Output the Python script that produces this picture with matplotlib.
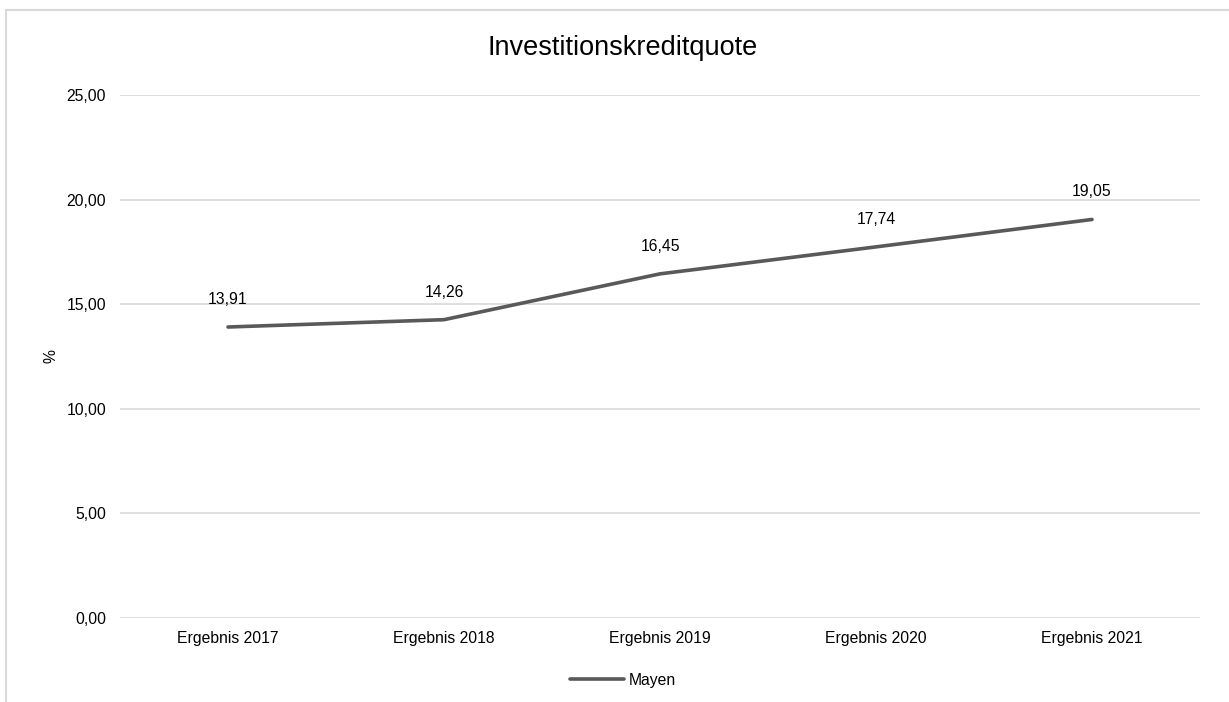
import matplotlib.pyplot as plt
from matplotlib.lines import Line2D

plt.rcParams['font.family'] = ['Liberation Sans', 'DejaVu Sans']

categories = ['Ergebnis 2017', 'Ergebnis 2018', 'Ergebnis 2019', 'Ergebnis 2020', 'Ergebnis 2021']
values = [13.91, 14.26, 16.45, 17.74, 19.05]
yticks = [0, 5, 10, 15, 20, 25]

W, H = 1229, 702
fig = plt.figure(figsize=(W / 100, H / 100), dpi=100)
ax = fig.add_axes([120 / W, 1 - 618 / H, 1080 / W, 523 / H])

x = list(range(len(categories)))
line, = ax.plot(x, values, color='#595959', linewidth=2.6, solid_capstyle='round', label='Mayen', zorder=3)
for xi, v in zip(x, values):
    ax.annotate(f'{v:.2f}'.replace('.', ','), (xi, v), xytext=(0, 20), textcoords='offset pixels',
                ha='center', va='bottom', fontsize=11.3, color='#000000')

ax.set_xlim(-0.5, len(categories) - 0.5)
ax.set_ylim(0, 25)
ax.set_yticks(yticks)
ax.set_yticklabels([f'{t:.2f}'.replace('.', ',') for t in yticks], fontsize=11.3)
ax.set_xticks(x)
ax.set_xticklabels(categories, fontsize=11.3)
ax.tick_params(length=0)
ax.tick_params(axis='x', pad=9)
ax.tick_params(axis='y', pad=10)
ax.grid(axis='y', color='#d9d9d9', linewidth=1.2)
ax.set_axisbelow(True)
for s in ax.spines.values():
    s.set_visible(False)
ax.set_ylabel('%', fontsize=11.3)
ax.yaxis.set_label_coords((58 - 120) / 1080, 0.5)

fig.text(623 / W, 1 - 48 / H, 'Investitionskreditquote', ha='center', va='center', fontsize=19.5)
fig.legend(handles=[line], loc='center', bbox_to_anchor=(623 / W, 1 - 680 / H), frameon=False,
           fontsize=11.3, handlelength=3.5, handletextpad=0.3)

fig.add_artist(Line2D([6 / W, 1], [1 - 10 / H, 1 - 10 / H], color='#d9d9d9', linewidth=1.5, transform=fig.transFigure))
fig.add_artist(Line2D([6 / W, 6 / W], [0, 1 - 10 / H], color='#d9d9d9', linewidth=1.5, transform=fig.transFigure))

fig.savefig('out.png', dpi=100)
